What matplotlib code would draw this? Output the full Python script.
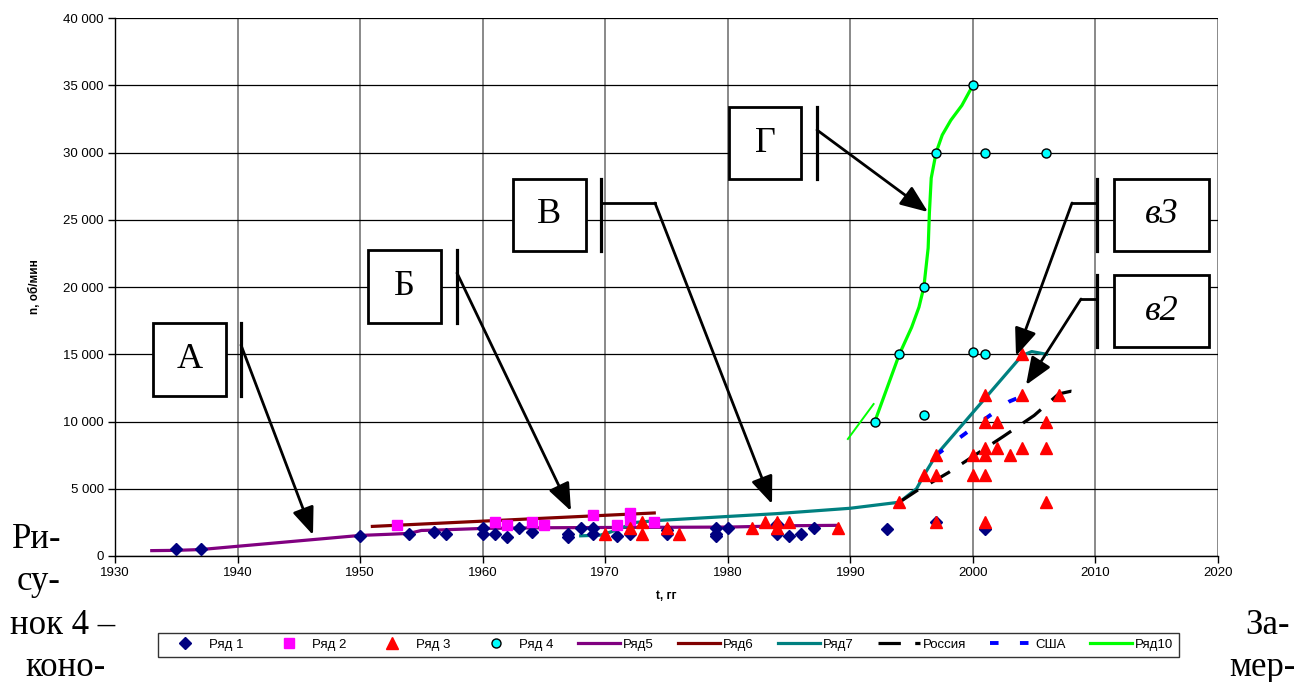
import matplotlib
matplotlib.use("Agg")
import matplotlib.pyplot as plt
from matplotlib.patches import Rectangle, FancyArrowPatch
from matplotlib.lines import Line2D
from matplotlib.ticker import FuncFormatter, MultipleLocator

plt.rcParams['font.family'] = ['Liberation Sans', 'DejaVu Sans']

# ---------------- data ----------------
s1_x = [1935, 1937, 1950, 1954, 1956, 1957, 1960, 1960, 1961, 1962, 1963, 1964,
        1967, 1967, 1968, 1969, 1969, 1971, 1972, 1975, 1975, 1979, 1979, 1979,
        1980, 1984, 1984, 1985, 1986, 1987, 1993, 1997, 2001]
s1_y = [500, 500, 1500, 1650, 1800, 1650, 2050, 1650, 1650, 1430, 2050, 1800,
        1430, 1650, 2050, 2050, 1600, 1500, 1600, 1900, 1650, 2050, 1650, 1450,
        2050, 2400, 1650, 1450, 1650, 2100, 2000, 2500, 2000]

s2_x = [1953, 1961, 1962, 1964, 1965, 1969, 1971, 1972, 1972, 1974]
s2_y = [2300, 2500, 2300, 2500, 2300, 3050, 2300, 3200, 2700, 2500]

s3_x = [1970, 1972, 1973, 1973, 1975, 1976, 1982, 1983, 1984, 1984, 1985, 1989,
        1994, 1996, 1997, 1997, 1997, 2000, 2000, 2001, 2001, 2001, 2001, 2001,
        2001, 2002, 2002, 2003, 2004, 2004, 2004, 2006, 2006, 2006, 2007]
s3_y = [1650, 2050, 2500, 1650, 2050, 1650, 2050, 2500, 2500, 2050, 2500, 2050,
        4000, 6000, 7500, 6000, 2500, 7500, 6000, 12000, 10000, 8000, 7500, 6000,
        2500, 10000, 8000, 7500, 15000, 12000, 8000, 10000, 8000, 4000, 12000]

s4_x = [1992, 1994, 1996, 1996, 1997, 2000, 2000, 2001, 2001, 2006]
s4_y = [10000, 15000, 10500, 20000, 30000, 35000, 15200, 30000, 15000, 30000]

r5_x = [1933, 1935, 1937, 1950, 1952.5, 1954, 1955, 1956, 1960, 1965, 1970, 1980, 1985, 1989]
r5_y = [400, 420, 480, 1530, 1620, 1680, 1900, 1920, 2050, 2100, 2120, 2150, 2250, 2280]

r6_x = [1951, 1974]
r6_y = [2200, 3200]

r7_x = [1968, 1969.6, 1970.5, 1972.5, 1974.5, 1984, 1990, 1994, 1995.4, 1996, 1997,
        2004, 2004.8, 2006]
r7_y = [1500, 1550, 1800, 2500, 2650, 3150, 3550, 4000, 5000, 6000, 7500,
        14900, 15200, 15000]

ru_x = [1994, 1995.5, 1996.5, 1998, 1999, 2002.5, 2005, 2007, 2008, 2009]
ru_y = [4000, 4900, 5400, 6200, 6800, 8900, 10450, 12050, 12250, 12100]

us_x = [1997, 2001, 2003, 2005]
us_y = [7500, 10200, 11500, 12250]

r10_x = [1992, 1993, 1994, 1995, 1995.6, 1996, 1996.35, 1996.45, 1996.6, 1997,
         1997.5, 1998.2, 1999.1, 2000]
r10_y = [10000, 12500, 15000, 17000, 18500, 20000, 22900, 25500, 28100, 30000,
         31300, 32400, 33500, 35000]
r10b_x = [1989.8, 1991.9]
r10b_y = [8700, 11300]

legend_labels = ['Ряд 1', 'Ряд 2', 'Ряд 3', 'Ряд 4', 'Ряд5', 'Ряд6', 'Ряд7',
                 'Россия', 'США', 'Ряд10']

# ---------------- figure ----------------
W, H = 1300, 682
fig = plt.figure(figsize=(13, 6.82), dpi=100)
fig.patch.set_facecolor('white')

def fx(x):
    return x / W

def fy(y):
    return 1 - y / H

ax = fig.add_axes([fx(115), fy(556), (1218 - 115) / W, (556 - 18) / H])
ax.set_xlim(1930, 2020)
ax.set_ylim(0, 40000)
ax.xaxis.set_major_locator(MultipleLocator(10))
ax.yaxis.set_major_locator(MultipleLocator(5000))
ax.yaxis.set_major_formatter(FuncFormatter(lambda v, p: f"{int(v):,}".replace(",", " ")))
ax.tick_params(labelsize=9.5, length=5, width=1, color='black', pad=3)
ax.grid(axis='y', color='black', lw=0.9, zorder=0)
ax.grid(axis='x', color='#808080', lw=1.3, zorder=0)
ax.set_axisbelow(True)
for sp in ['top', 'right']:
    ax.spines[sp].set_visible(False)
for sp in ['left', 'bottom']:
    ax.spines[sp].set_color('black')
    ax.spines[sp].set_linewidth(1.0)

ax.set_xlabel('t, гг', fontsize=8.5, fontweight='bold', labelpad=8)
ax.set_ylabel('n, об/мин', fontsize=8.5, fontweight='bold', labelpad=16)

# lines
l5, = ax.plot(r5_x, r5_y, color='#800080', lw=2.3, zorder=3)
l6, = ax.plot(r6_x, r6_y, color='#800000', lw=2.3, zorder=3)
l7, = ax.plot(r7_x, r7_y, color='#008080', lw=2.3, zorder=3)
lru, = ax.plot(ru_x, ru_y, color='black', lw=2.3, ls=(0, (7, 4.5)), zorder=3)
lus, = ax.plot(us_x, us_y, color='#0000FF', lw=2.8, ls=(0, (2.2, 5.5)), zorder=3)
l10, = ax.plot(r10_x, r10_y, color='#00FF00', lw=2.3, zorder=3)
ax.plot(r10b_x, r10b_y, color='#00FF00', lw=1.4, zorder=3)

# markers
m1, = ax.plot(s1_x, s1_y, ls='none', marker='D', ms=6, color='#000080', zorder=4)
m2, = ax.plot(s2_x, s2_y, ls='none', marker='s', ms=7.5, color='#FF00FF', zorder=4)
m3, = ax.plot(s3_x, s3_y, ls='none', marker='^', ms=8.5, color='#FF0000', zorder=5)
m4, = ax.plot(s4_x, s4_y, ls='none', marker='o', ms=6.5, markerfacecolor='#00FFFF',
              markeredgecolor='black', markeredgewidth=1.0, zorder=6)

handles = [m1, m2, m3, m4, l5, l6, l7, lru, lus, l10]
leg = fig.legend(handles, legend_labels, loc='lower left',
                 bbox_to_anchor=(fx(158), fy(657), (1179 - 158) / W, (657 - 628) / H),
                 mode='expand', ncol=10, fontsize=9.5, frameon=True, fancybox=False,
                 edgecolor='black', handlelength=3.2, handletextpad=0.2,
                 columnspacing=0.6, borderaxespad=0, borderpad=0.45)
leg.get_frame().set_linewidth(1.0)

# ---------------- annotation boxes ----------------
serif = ['Liberation Serif', 'DejaVu Serif']

def box(x0, y0, x1, y1, text, italic=False):
    fig.add_artist(Rectangle((fx(x0), fy(y1)), fx(x1) - fx(x0), fy(y0) - fy(y1),
                             transform=fig.transFigure, facecolor='white',
                             edgecolor='black', lw=2.0, zorder=10))
    fig.text(fx((x0 + x1) / 2), fy((y0 + y1) / 2), text, ha='center', va='center',
             fontsize=26, family=serif, style='italic' if italic else 'normal',
             zorder=11)

def bar(x, y0, y1):
    fig.add_artist(Line2D([fx(x), fx(x)], [fy(y0), fy(y1)], transform=fig.transFigure,
                          color='black', lw=2.3, zorder=10))

def poly(pts):
    xs = [fx(p[0]) for p in pts]
    ys = [fy(p[1]) for p in pts]
    fig.add_artist(Line2D(xs, ys, transform=fig.transFigure, color='black', lw=2.0,
                          zorder=10, solid_joinstyle='miter'))

def arrow(p0, p1):
    fig.add_artist(FancyArrowPatch((fx(p0[0]), fy(p0[1])), (fx(p1[0]), fy(p1[1])),
                                   transform=fig.transFigure,
                                   arrowstyle='-|>,head_length=0.6,head_width=0.24',
                                   mutation_scale=28, color='black', lw=2.0,
                                   shrinkA=0, shrinkB=0, zorder=10))

# А
box(153, 323, 226, 396, 'А')
bar(241, 323, 396)
arrow((241, 345), (313, 535))
# Б
box(368, 250, 441, 323, 'Б')
bar(457, 250, 323)
arrow((457, 273), (571, 511))
# В
box(513, 179, 586, 251, 'В')
bar(601, 179, 251)
poly([(601, 203), (655, 203)])
arrow((655, 203), (772, 504))
# Г
box(729, 107, 801, 179, 'Г')
bar(817, 107, 179)
arrow((817, 130), (928, 212))
# в3
box(1114, 179, 1209, 251, 'в3', italic=True)
bar(1097, 179, 251)
poly([(1097, 203), (1072, 203)])
arrow((1072, 203), (1016, 356))
# в2
box(1114, 275, 1209, 347, 'в2', italic=True)
bar(1097, 275, 347)
poly([(1097, 299), (1081, 299)])
arrow((1081, 299), (1026, 385))

# ---------------- surrounding document text ----------------
tkw = dict(fontsize=25, family=serif, va='center', ha='left')
fig.text(fx(12), fy(540), 'Ри-', **tkw)
fig.text(fx(17), fy(582), 'су-', **tkw)
fig.text(fx(10), fy(625), 'нок 4 –', **tkw)
fig.text(fx(25), fy(667), 'коно-', **tkw)
fig.text(fx(1290), fy(625), 'За-', fontsize=25, family=serif, va='center', ha='right')
fig.text(fx(1295), fy(667), 'мер-', fontsize=25, family=serif, va='center', ha='right')

fig.savefig('out.png', dpi=100, facecolor='white')
